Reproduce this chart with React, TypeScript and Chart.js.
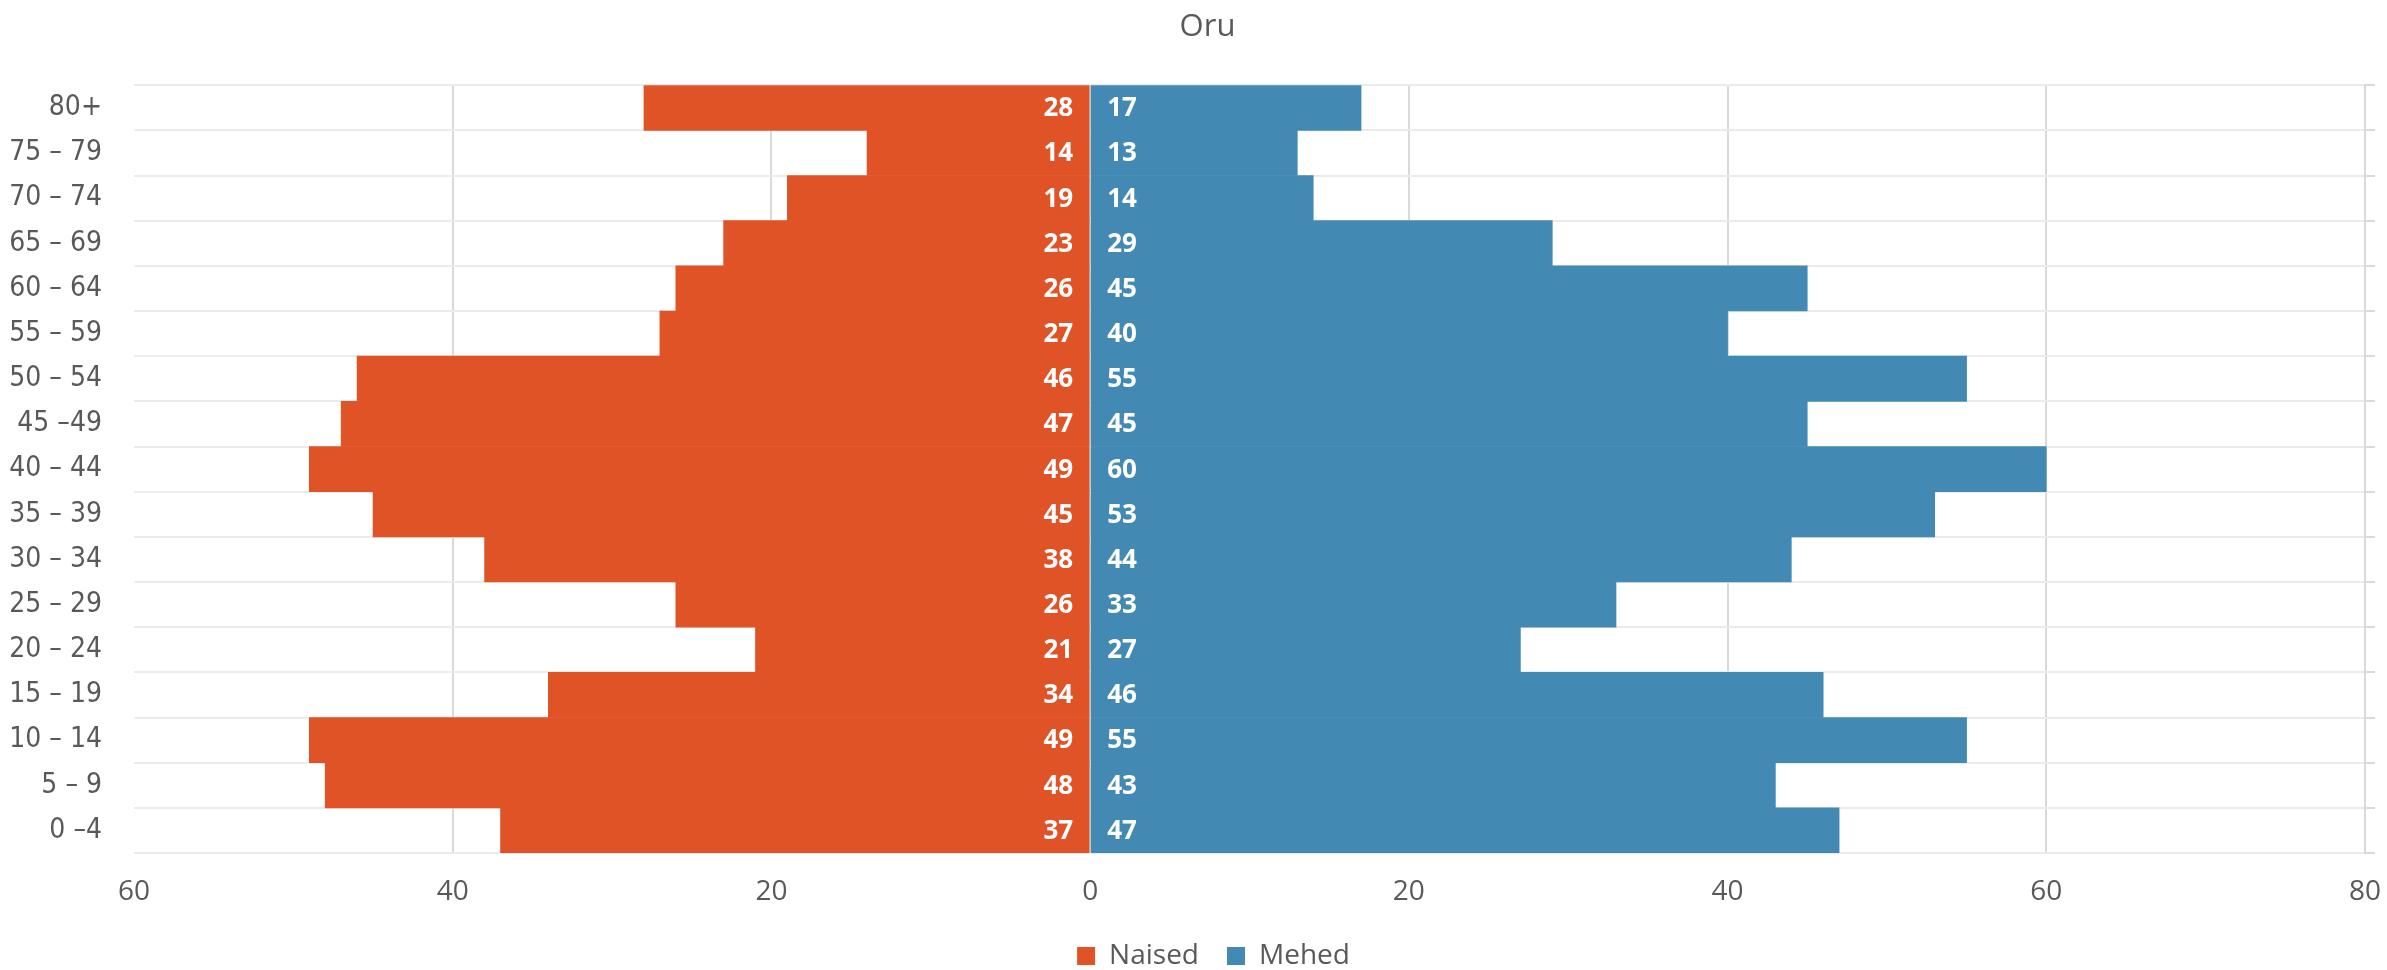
import React, { useEffect, useRef } from "react";
import { Chart, registerables } from "chart.js";

Chart.register(...registerables);

const ageGroups = [
  "80+", "75 – 79", "70 – 74", "65 – 69", "60 – 64", "55 – 59", "50 – 54",
  "45 –49", "40 – 44", "35 – 39", "30 – 34", "25 – 29", "20 – 24", "15 – 19",
  "10 – 14", "5 – 9", "0 –4",
];
const naised = [28, 14, 19, 23, 26, 27, 46, 47, 49, 45, 38, 26, 21, 34, 49, 48, 37];
const mehed = [17, 13, 14, 29, 45, 40, 55, 45, 60, 53, 44, 33, 27, 46, 55, 43, 47];
const seriesNames = ["Naised", "Mehed"];
const chartTitle = "Oru";
const xMin = -60;
const xMax = 80;
const xStep = 20;

const ORANGE = "#E05327";
const BLUE = "#4289B4";
const TEXT = "#595959";
const FONT = "'Open Sans', sans-serif";
const NARROW = "'Liberation Sans Narrow', 'DejaVu Sans Condensed', 'Open Sans', sans-serif";

const barLabels = {
  id: "barLabels",
  afterDatasetsDraw(chart: any) {
    const ctx = chart.ctx;
    const zero = chart.scales.x.getPixelForValue(0);
    ctx.save();
    ctx.fillStyle = "#ffffff";
    ctx.font = `bold 26px ${FONT}`;
    ctx.textBaseline = "middle";
    chart.data.datasets.forEach((ds: any, di: number) => {
      const meta = chart.getDatasetMeta(di);
      meta.data.forEach((el: any, i: number) => {
        const v = ds.data[i];
        const neg = v < 0;
        ctx.textAlign = neg ? "right" : "left";
        ctx.fillText(String(Math.abs(v)), neg ? zero - 17 : zero + 17, el.y + 1);
      });
    });
    ctx.restore();
  },
};

const shiftBlocks = {
  id: "shiftBlocks",
  afterLayout(chart: any) {
    if (chart.titleBlock) {
      chart.titleBlock.left += 14;
      chart.titleBlock.right += 14;
    }
    if (chart.legend) {
      chart.legend.left += 20;
      chart.legend.right += 20;
    }
  },
};

export default function App() {
  const canvasRef = useRef<HTMLCanvasElement | null>(null);

  useEffect(() => {
    document.body.style.margin = "0";
    const canvas = canvasRef.current;
    if (!canvas) return;
    const chart = new Chart(canvas, {
      type: "bar",
      data: {
        labels: ageGroups,
        datasets: [
          {
            label: seriesNames[0],
            data: naised.map((v) => -v),
            backgroundColor: ORANGE,
            borderWidth: 0,
            barPercentage: 1,
            categoryPercentage: 1,
          },
          {
            label: seriesNames[1],
            data: mehed,
            backgroundColor: BLUE,
            borderWidth: 0,
            barPercentage: 1,
            categoryPercentage: 1,
          },
        ],
      },
      options: {
        indexAxis: "y",
        responsive: false,
        animation: false,
        layout: { padding: { left: 0, right: 0, top: 0, bottom: 0 } },
        scales: {
          x: {
            type: "linear",
            min: xMin,
            max: xMax,
            stacked: true,
            ticks: {
              stepSize: xStep,
              callback: (v: any) => String(Math.abs(Number(v))),
              color: TEXT,
              font: { size: 28, family: FONT, lineHeight: 2.5 },
              padding: 4,
              maxRotation: 0,
            },
            grid: {
              color: (c: any) => (c.tick && c.tick.value === xMin ? "rgba(0,0,0,0)" : "#d9d9d9"),
              lineWidth: 2,
              drawTicks: false,
            },
            border: { display: false },
            afterFit: (s: any) => {
              s.height = 61;
            },
          },
          y: {
            type: "category",
            position: "left",
            stacked: true,
            offset: true,
            grid: { offset: true, color: "#ebebeb", lineWidth: 2, drawTicks: false },
            border: { display: false },
            ticks: { color: TEXT, font: { size: 28, family: NARROW }, padding: 32 },
            afterFit: (s: any) => {
              s.width = 134;
            },
          },
          y2: {
            type: "category",
            position: "right",
            offset: true,
            grid: {
              offset: true,
              drawOnChartArea: false,
              drawTicks: true,
              tickLength: 10,
              color: "#d9d9d9",
              lineWidth: 2,
            },
            border: { display: true, color: "#d9d9d9", width: 2 },
            ticks: { display: false },
            afterFit: (s: any) => {
              s.width = 22;
            },
          },
        },
        plugins: {
          title: {
            display: true,
            text: chartTitle,
            color: TEXT,
            font: { size: 31, family: FONT, weight: "normal" },
            padding: { top: 9, bottom: 39 },
          },
          legend: {
            display: true,
            position: "bottom",
            maxHeight: 56,
            labels: {
              boxWidth: 18,
              boxHeight: 18,
              padding: 28,
              color: TEXT,
              font: { size: 28, family: FONT },
            },
          },
          tooltip: { enabled: false },
        },
      } as any,
      plugins: [barLabels, shiftBlocks],
    });
    return () => chart.destroy();
  }, []);

  return (
    <div style={{ width: 2387, height: 970, position: "relative" }}>
      <canvas ref={canvasRef} width={2387} height={970} style={{ display: "block" }} />
    </div>
  );
}
